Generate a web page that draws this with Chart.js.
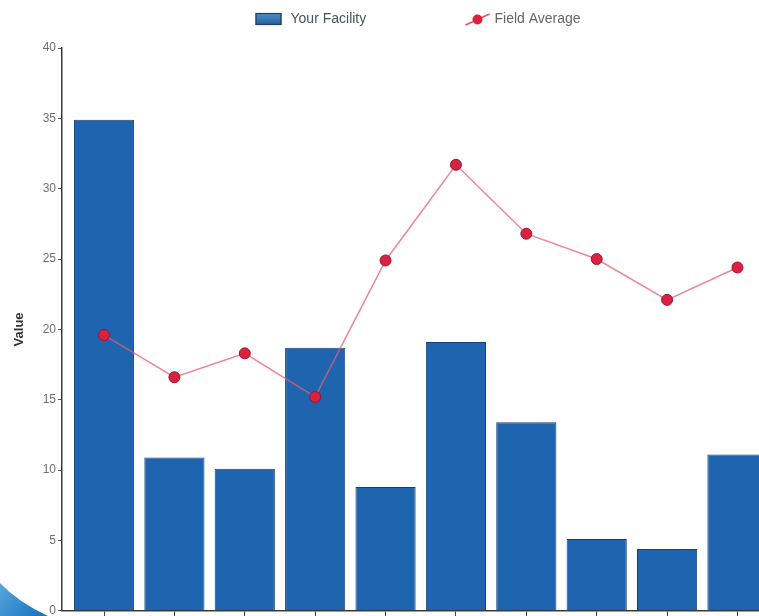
<!DOCTYPE html>
<html>
<head>
<meta charset="utf-8">
<script src="https://cdn.jsdelivr.net/npm/chart.js@4.4.1/dist/chart.umd.min.js"></script>
<style>
  html, body { margin: 0; padding: 0; background: #ffffff; overflow: hidden; }
  #wrap { width: 759px; height: 616px; position: relative; overflow: hidden; }
  #chart { position: absolute; left: 0; top: 0; }
</style>
</head>
<body>
<div id="wrap"><canvas id="chart" width="766" height="620"></canvas></div>
<script>
// Categories (positions along the x axis) and the two series
const categories = ['1', '2', '3', '4', '5', '6', '7', '8', '9', '10'];
const facilityValues = [34.9, 10.9, 10.1, 18.7, 8.8, 19.1, 13.4, 5.1, 4.4, 11.1];
const fieldAverageValues = [19.6, 16.6, 18.3, 15.2, 24.9, 31.7, 26.8, 25.0, 22.1, 24.4];
const yTicks = [0, 5, 10, 15, 20, 25, 30, 35, 40];
const seriesNames = ['Your Facility', 'Field Average'];

const toPoints = arr => arr.map((v, i) => ({ x: i, y: v, label: categories[i] }));

// visible frame of the page
const VIEW_W = 759;
const VIEW_H = 616;

const BAR_FILL = '#1f64ae';
const BAR_EDGE = '#173f73';
const LINE_COLOR = 'rgba(232, 92, 116, 0.75)';
const POINT_FILL = '#d8223f';
const POINT_EDGE = '#9e1230';
const TEXT_GRAY = '#6f6f6f';

// Legend drawn across the top of the canvas
const topLegend = {
  id: 'topLegend',
  afterDraw(chart) {
    const ctx = chart.ctx;
    const mid = VIEW_W / 2;
    ctx.save();
    ctx.font = '14px "Liberation Sans", Arial, sans-serif';
    ctx.textBaseline = 'middle';
    const cy = 19;

    // bar swatch
    const bx = mid - 124;
    const grad = ctx.createLinearGradient(0, cy - 6, 0, cy + 6);
    grad.addColorStop(0, '#4f8fc8');
    grad.addColorStop(1, '#1f5f9e');
    ctx.fillStyle = grad;
    ctx.fillRect(bx, cy - 6, 26, 12);
    ctx.strokeStyle = '#1d3f66';
    ctx.lineWidth = 1.2;
    ctx.strokeRect(bx + 0.5, cy - 5.5, 25, 11);
    ctx.fillStyle = '#4c5260';
    ctx.fillText(seriesNames[0], bx + 35, cy);

    // line + point swatch
    const lx = mid + 86;
    ctx.strokeStyle = 'rgba(230, 60, 80, 0.9)';
    ctx.lineWidth = 1.5;
    ctx.beginPath();
    ctx.moveTo(lx, cy + 6);
    ctx.lineTo(lx + 24, cy - 5);
    ctx.stroke();
    ctx.beginPath();
    ctx.arc(lx + 12, cy + 0.5, 5, 0, Math.PI * 2);
    ctx.fillStyle = POINT_FILL;
    ctx.fill();
    ctx.fillStyle = '#666666';
    ctx.fillText(seriesNames[1], lx + 29, cy);
    ctx.restore();
  }
};

// Decorative corner accent at the lower left
const cornerAccent = {
  id: 'cornerAccent',
  afterDraw(chart) {
    const ctx = chart.ctx;
    const h = VIEW_H;
    ctx.save();
    const g = ctx.createLinearGradient(0, h - 34, 40, h);
    g.addColorStop(0, '#5aa7de');
    g.addColorStop(1, '#1a74c0');
    ctx.fillStyle = g;
    ctx.beginPath();
    ctx.moveTo(0, h - 33);
    ctx.quadraticCurveTo(18, h - 14, 48, h);
    ctx.lineTo(0, h + 4);
    ctx.closePath();
    ctx.fill();
    ctx.restore();
  }
};

new Chart(document.getElementById('chart'), {
  data: {
    datasets: [
      {
        type: 'line',
        label: seriesNames[1],
        data: toPoints(fieldAverageValues),
        borderColor: LINE_COLOR,
        borderWidth: 1.5,
        pointRadius: 5.5,
        pointBackgroundColor: POINT_FILL,
        pointBorderColor: POINT_EDGE,
        pointBorderWidth: 1,
        tension: 0,
        order: 0
      },
      {
        type: 'bar',
        label: seriesNames[0],
        data: toPoints(facilityValues),
        backgroundColor: BAR_FILL,
        borderColor: BAR_EDGE,
        borderWidth: 1,
        categoryPercentage: 1.0,
        barPercentage: 0.855,
        order: 1
      }
    ]
  },
  options: {
    responsive: false,
    animation: false,
    layout: { padding: { top: 48, right: 0, bottom: 0, left: 0 } },
    plugins: {
      legend: { display: false },
      tooltip: { enabled: false }
    },
    scales: {
      x: {
        type: 'linear',
        offset: false,
        min: -0.597,
        max: 9.313,
        afterBuildTicks(scale) {
          scale.ticks = categories.map((c, i) => ({ value: i }));
        },
        afterFit(scale) { scale.height = 6; },
        grid: {
          display: true,
          offset: false,
          drawOnChartArea: false,
          drawTicks: true,
          tickLength: 6,
          tickColor: '#444444',
          tickWidth: 1
        },
        border: { display: true, color: '#3a3a3a', width: 1.5 },
        ticks: { display: false, stepSize: 1 }
      },
      y: {
        type: 'linear',
        min: 0,
        max: 40,
        afterBuildTicks(scale) {
          scale.ticks = yTicks.map(v => ({ value: v }));
        },
        afterFit(scale) { scale.width = 62; },
        grid: {
          display: true,
          drawOnChartArea: false,
          drawTicks: true,
          tickLength: 4,
          tickColor: '#555555',
          tickWidth: 1
        },
        border: { display: true, color: '#3a3a3a', width: 1.5 },
        ticks: {
          color: TEXT_GRAY,
          padding: 2,
          font: { family: '"Liberation Sans", Arial, sans-serif', size: 12 }
        },
        title: {
          display: true,
          text: 'Value',
          color: '#333333',
          padding: { top: 12, bottom: 0 },
          font: { family: '"Liberation Sans", Arial, sans-serif', size: 13, weight: 'bold' }
        }
      }
    }
  },
  plugins: [topLegend, cornerAccent]
});
</script>
</body>
</html>
